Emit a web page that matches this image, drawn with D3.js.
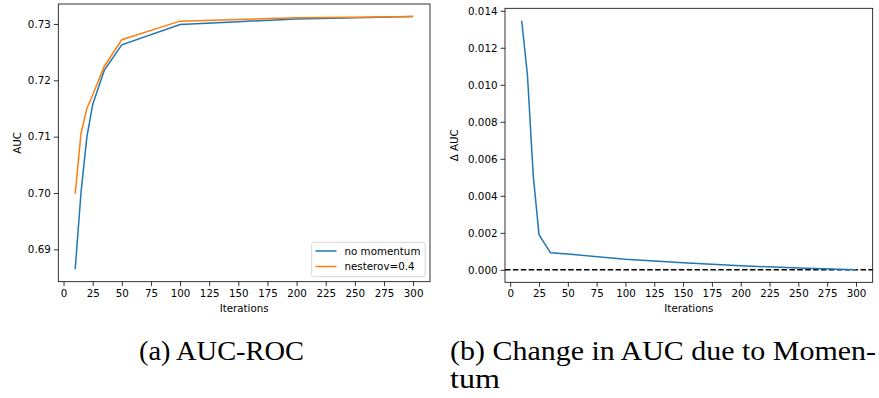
<!DOCTYPE html>
<meta charset="utf-8">
<script src="https://d3js.org/d3.v7.min.js"></script>
<style>
  body { margin: 0; background: #fff; }
  text { font-family: "DejaVu Sans", sans-serif; }
</style>
<div id="my_dataviz"></div>
<script>
// data
var iterations = [10, 15, 20, 25, 35, 50, 100, 150, 200, 250, 300];
var noMomentum = [0.6865, 0.7001, 0.7099, 0.7157, 0.7218, 0.7263, 0.7299, 0.7304, 0.7309, 0.7311, 0.7313];
var nesterov   = [0.6999, 0.7106, 0.7150, 0.7174, 0.7225, 0.7272, 0.7305, 0.7308, 0.7311, 0.7312, 0.7313];
var deltaAuc   = [0.01346, 0.0105, 0.0051, 0.0019, 0.00092, 0.00085, 0.00057, 0.00038, 0.00022, 0.0001, 0.0];
var xTicks = d3.range(0, 301, 25);
var aucTicks = [0.69, 0.70, 0.71, 0.72, 0.73];
var deltaTicks = [0, 0.002, 0.004, 0.006, 0.008, 0.010, 0.012, 0.014];
var seriesNames = ["no momentum", "nesterov=0.4"];
var colours = {"no momentum": "#1f77b4", "nesterov=0.4": "#ff7f0e"};

var svg = d3.select("#my_dataviz")
  .append("svg")
    .attr("width", 879)
    .attr("height", 398);

// matplotlib style 5% margins
function padded(vals) {
  var e = d3.extent(vals), p = (e[1] - e[0]) * 0.05;
  return [e[0] - p, e[1] + p];
}

function panel(box, yDomain, yTickVals, yFmt, yLabel, labelOffset) {
  var g = svg.append("g");
  var x = d3.scaleLinear().domain(padded(iterations)).range([box.left, box.right]);
  var y = d3.scaleLinear().domain(yDomain).range([box.bottom, box.top]);

  var xAxis = g.append("g")
    .attr("transform", "translate(0," + box.bottom + ")")
    .call(d3.axisBottom(x).tickValues(xTicks).tickSize(4.5).tickPadding(3).tickFormat(d3.format("d")));
  var yAxis = g.append("g")
    .attr("transform", "translate(" + box.left + ",0)")
    .call(d3.axisLeft(y).tickValues(yTickVals).tickSize(4.5).tickPadding(3).tickFormat(d3.format(yFmt)));
  [xAxis, yAxis].forEach(function(a) {
    a.select(".domain").remove();
    a.selectAll("line").attr("stroke", "#000").attr("stroke-width", 0.8);
    a.selectAll("text").attr("fill", "#000").style("font-size", "10.3px").style("font-family", "DejaVu Sans");
  });

  // frame
  g.append("rect")
    .attr("x", box.left).attr("y", box.top)
    .attr("width", box.right - box.left).attr("height", box.bottom - box.top)
    .attr("fill", "none").attr("stroke", "#000").attr("stroke-width", 0.8);

  g.append("text")
    .attr("x", (box.left + box.right) / 2)
    .attr("y", box.bottom + 30)
    .attr("text-anchor", "middle")
    .style("font-size", "10.3px")
    .text("Iterations");

  g.append("text")
    .attr("transform", "translate(" + (box.left - labelOffset) + "," + ((box.top + box.bottom) / 2) + ")rotate(-90)")
    .attr("text-anchor", "middle")
    .style("font-size", "10.3px")
    .text(yLabel);

  return {g: g, x: x, y: y};
}

// (a) AUC-ROC
var boxA = {left: 58.3, right: 430, top: 4, bottom: 281.7};
var a = panel(boxA, padded(noMomentum.concat(nesterov)), aucTicks, ".2f", "AUC", 37.5);

var series = [
  {name: "no momentum", values: noMomentum},
  {name: "nesterov=0.4", values: nesterov}
];
var lineA = d3.line()
  .x(function(d, i) { return a.x(iterations[i]); })
  .y(function(d) { return a.y(d); });
a.g.selectAll(".series")
  .data(series)
  .enter()
  .append("path")
    .attr("fill", "none")
    .attr("stroke", function(d) { return colours[d.name]; })
    .attr("stroke-width", 1.5)
    .attr("d", function(d) { return lineA(d.values); });

// legend
var legend = a.g.append("g");
legend.append("rect")
  .attr("x", 311.7).attr("y", 242.3)
  .attr("width", 113.5).attr("height", 34.4)
  .attr("rx", 2)
  .attr("fill", "#fff").attr("fill-opacity", 0.8)
  .attr("stroke", "#cccccc").attr("stroke-width", 0.8);
seriesNames.forEach(function(n, i) {
  var yy = 251 + i * 15.5;
  legend.append("line")
    .attr("x1", 315.5).attr("x2", 336.5)
    .attr("y1", yy).attr("y2", yy)
    .attr("stroke", colours[n]).attr("stroke-width", 1.5);
  legend.append("text")
    .attr("x", 344.5).attr("y", yy + 3.7)
    .style("font-size", "10.3px")
    .text(n);
});

// (b) change in AUC
var boxB = {left: 505, right: 872.7, top: 8.3, bottom: 282.3};
var b = panel(boxB, padded(deltaAuc), deltaTicks, ".3f", "\u0394 AUC", 47);

b.g.append("line")
  .attr("x1", boxB.left).attr("x2", boxB.right)
  .attr("y1", b.y(0)).attr("y2", b.y(0))
  .attr("stroke", "#000").attr("stroke-width", 1.5)
  .attr("stroke-dasharray", "5.5,2.4");

b.g.append("path")
  .datum(deltaAuc)
  .attr("fill", "none")
  .attr("stroke", colours["no momentum"])
  .attr("stroke-width", 1.5)
  .attr("d", d3.line()
    .x(function(d, i) { return b.x(iterations[i]); })
    .y(function(d) { return b.y(d); }));

// captions (LaTeX style subfigure captions)
function caption(x, y, txt, len) {
  var t = svg.append("text")
    .attr("x", x).attr("y", y)
    .style("font-family", "'Liberation Serif', serif")
    .style("font-size", "27px")
    .text(txt);
  if (len) t.attr("textLength", len).attr("lengthAdjust", "spacingAndGlyphs");
}
caption(139, 360, "(a) AUC-ROC", 165);
caption(450, 360, "(b) Change in AUC due to Momen-", 426);
caption(450, 388, "tum", 50);
</script>
